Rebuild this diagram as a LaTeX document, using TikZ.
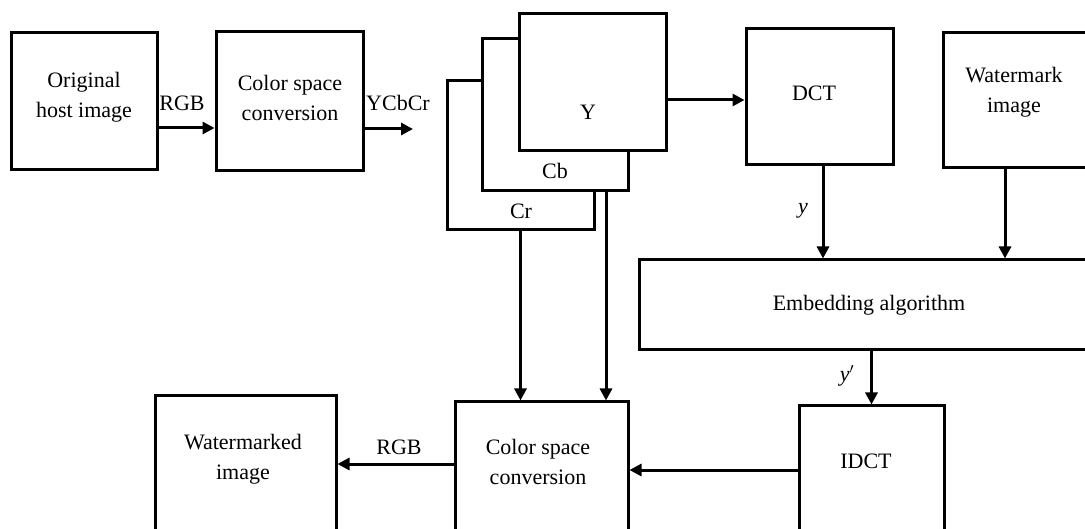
\documentclass[tikz,border=0pt]{standalone}
\usepackage{fontspec}
\setmainfont{Liberation Serif}
\usetikzlibrary{arrows.meta}
\begin{document}
\begin{tikzpicture}[x=1pt,y=-1pt,
  every node/.style={font=\fontsize{22}{30}\selectfont},
  box/.style={draw, line width=3pt, fill=white, inner sep=0pt, align=center},
  txt/.style={inner sep=0pt, align=center},
  arr/.style={line width=3pt, -{Triangle[length=12pt,width=12pt]}},
  ln/.style={line width=3pt}]
\useasboundingbox (0,0) rectangle (1085,529);
\clip (0,0) rectangle (1085,529);
% top row
\node[box, minimum width=146pt, minimum height=137pt] (orig) at (84,101.5) {};
\node[txt] (torig) at (84,97) {Original\\host image};
\node[box, minimum width=147pt, minimum height=139pt] (csc1) at (289.5,101.5) {};
\node[txt] (tcsc1) at (290,98) {Color space\\conversion};
% stacked channels
\node[box, minimum width=147pt, minimum height=149pt] (Cr) at (520.5,155.5) {};
\node[box, minimum width=146pt, minimum height=152pt] (Cb) at (555,115) {};
\node[box, minimum width=147pt, minimum height=137pt] (Y) at (592.5,82.5) {};
\node[txt] (tY) at (588,112) {Y};
\node[txt] (tCb) at (555,171) {Cb};
\node[txt] (tCr) at (521,211) {Cr};
\node[box, minimum width=147pt, minimum height=136pt] (dct) at (819.5,97) {};
\node[txt] (tdct) at (814,93) {DCT};
\node[box, minimum width=146pt, minimum height=135pt] (wm) at (1016,100.5) {};
\node[txt] (twm) at (1014,92) {Watermark\\image};
% embedding
\node[box, minimum width=460pt, minimum height=90pt] (emb) at (869,305) {Embedding algorithm};
% bottom row
\node[box, minimum width=145pt, minimum height=160pt] (idct) at (871.5,486) {};
\node[txt] (tidct) at (866,461) {IDCT};
\node[box, minimum width=173pt, minimum height=160pt] (csc2) at (541.5,482) {};
\node[txt] (tcsc2) at (538,462) {Color space\\conversion};
\node[box, minimum width=181pt, minimum height=170pt] (wmd) at (245.5,481) {};
\node[txt] (twmd) at (243,459) {Watermarked\\image};
% helper coordinates
\coordinate (h128) at (0,128);
\coordinate (ycc) at (413,129);
\coordinate (h100) at (0,100);
\coordinate (v823) at (823,0);
\coordinate (v1005) at (1005,0);
\coordinate (v606) at (606,0);
\coordinate (h470) at (0,470);
\coordinate (h464) at (0,464);
% connectors
\draw[arr] (orig.east |- h128) -- (csc1.west |- h128);
\draw[arr] (csc1.east |- ycc) -- (ycc);
\draw[arr] (Y.east |- h100) -- (dct.west |- h100);
\draw[arr] (dct.south -| v823) -- (emb.north -| v823);
\draw[arr] (wm.south -| v1005) -- (emb.north -| v1005);
\draw[arr] (idct.north |- emb.south) -- (idct.north);
\draw[arr] (idct.west |- h470) -- (csc2.east |- h470);
\draw[arr] (csc2.west |- h464) -- (wmd.east |- h464);
\draw[arr] (Cr.south) -- (Cr.south |- csc2.north);
\draw[arr] (Cb.south -| v606) -- (csc2.north -| v606);
% labels
\node[txt] (lrgb1) at (182,103) {RGB};
\node[txt] (lycc) at (398,103) {YCbCr};
\node[txt] (ly) at (803,211) {\itshape y};
\node[txt] (lyp) at (847,376) {\itshape y$'$};
\node[txt] (lrgb2) at (399,447) {RGB};
\end{tikzpicture}
\end{document}
